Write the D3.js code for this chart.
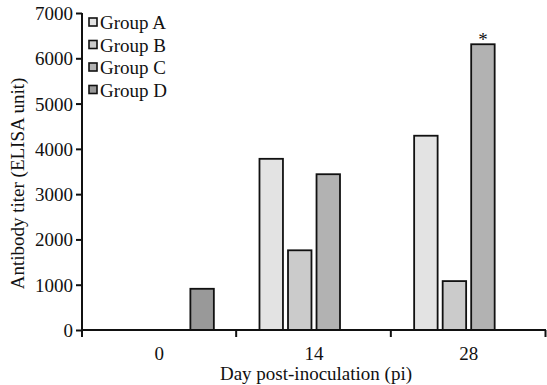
<!DOCTYPE html>
<html><head><meta charset="utf-8">
<script src="https://cdn.jsdelivr.net/npm/d3@7"></script>
<style>body{margin:0;background:#fff}svg{display:block}text{font-family:"Liberation Serif","Times New Roman",serif;fill:#111}</style>
</head><body><svg id="c" width="547" height="385"></svg>
<script>
const days = ["0", "14", "28"];
const groups = ["Group A", "Group B", "Group C", "Group D"];
const groupColors = ["#e3e3e3", "#cbcbcb", "#b2b2b2", "#999999"];
const valuesA = [0, 3780, 4290];
const valuesB = [0, 1760, 1080];
const valuesC = [0, 3440, 6310];
const valuesD = [910, 0, 0];
const yTicks = [0, 1000, 2000, 3000, 4000, 5000, 6000, 7000];
const seriesValues = [valuesA, valuesB, valuesC, valuesD];
const marks = [{day: "28", group: "Group C", label: "*"}];

const FS = 19;
const svg = d3.select("#c");
const mLeft = 82, mRight = 546, mTop = 13, mBottom = 330;
const x = d3.scaleBand().domain(days).range([mLeft, mRight]).padding(0);
const xi = d3.scaleBand().domain(groups).range([0, x.bandwidth()]).paddingInner(0.177).paddingOuter(0.8);
const y = d3.scaleLinear().domain([0, 7000]).range([mBottom, mTop]);

const data = [];
days.forEach((d, i) => groups.forEach((g, j) => {
  if (seriesValues[j][i] > 0) data.push({day: d, group: g, value: seriesValues[j][i], color: groupColors[j]});
}));

svg.append("g").selectAll("rect").data(data).enter().append("rect")
  .attr("x", d => x(d.day) + xi(d.group))
  .attr("y", d => y(d.value))
  .attr("width", xi.bandwidth())
  .attr("height", d => y(0) - y(d.value))
  .attr("fill", d => d.color)
  .attr("stroke", "#111").attr("stroke-width", 1.8);

marks.forEach(m => {
  const v = seriesValues[groups.indexOf(m.group)][days.indexOf(m.day)];
  svg.append("text").attr("x", x(m.day) + xi(m.group) + xi.bandwidth() / 2)
    .attr("y", y(v) + 2).attr("text-anchor", "middle").attr("font-size", FS).text(m.label);
});

// y axis
const yAxis = svg.append("g").attr("transform", `translate(${mLeft},0)`)
  .call(d3.axisLeft(y).tickValues(yTicks).tickSize(6).tickPadding(3).tickFormat(d3.format("d")));
yAxis.select(".domain").attr("d", `M0,${mTop}V${mBottom + 7}`).attr("stroke", "#111").attr("stroke-width", 2);
yAxis.selectAll(".tick line").attr("stroke", "#111").attr("stroke-width", 2);
yAxis.selectAll(".tick text").attr("font-size", FS).attr("fill", "#111").attr("dy", "0.34em");

// x axis
const xAxis = svg.append("g").attr("transform", `translate(0,${mBottom})`);
xAxis.append("line").attr("x1", mLeft).attr("x2", mRight).attr("stroke", "#111").attr("stroke-width", 2);
const bounds = days.map(d => x(d)).concat([x(days[days.length - 1]) + x.bandwidth()]);
xAxis.selectAll("line.t").data(bounds.slice(1)).enter().append("line").attr("class", "t")
  .attr("x1", d => d - 0.5).attr("x2", d => d - 0.5).attr("y1", 0).attr("y2", 7)
  .attr("stroke", "#111").attr("stroke-width", 2);
xAxis.selectAll("text").data(days).enter().append("text")
  .attr("x", d => x(d) + x.bandwidth() / 2).attr("y", 30)
  .attr("text-anchor", "middle").attr("font-size", FS).text(d => d);

svg.append("text").attr("x", (mLeft + mRight) / 2 + 2).attr("y", 380).attr("text-anchor", "middle")
  .attr("font-size", FS).text("Day post-inoculation (pi)");
svg.append("text").attr("transform", `translate(24,${(mTop + mBottom) / 2 + 12}) rotate(-90)`)
  .attr("text-anchor", "middle").attr("font-size", FS).text("Antibody titer (ELISA unit)");

// legend
const lg = svg.append("g").selectAll("g").data(groups).enter().append("g")
  .attr("transform", (d, i) => `translate(89,${18 + i * 22.5})`);
lg.append("rect").attr("width", 8).attr("height", 8).attr("y", 0)
  .attr("fill", (d, i) => groupColors[i]).attr("stroke", "#111").attr("stroke-width", 1.6);
lg.append("text").attr("x", 11).attr("y", 11).attr("font-size", FS).text(d => d);
</script></body></html>
